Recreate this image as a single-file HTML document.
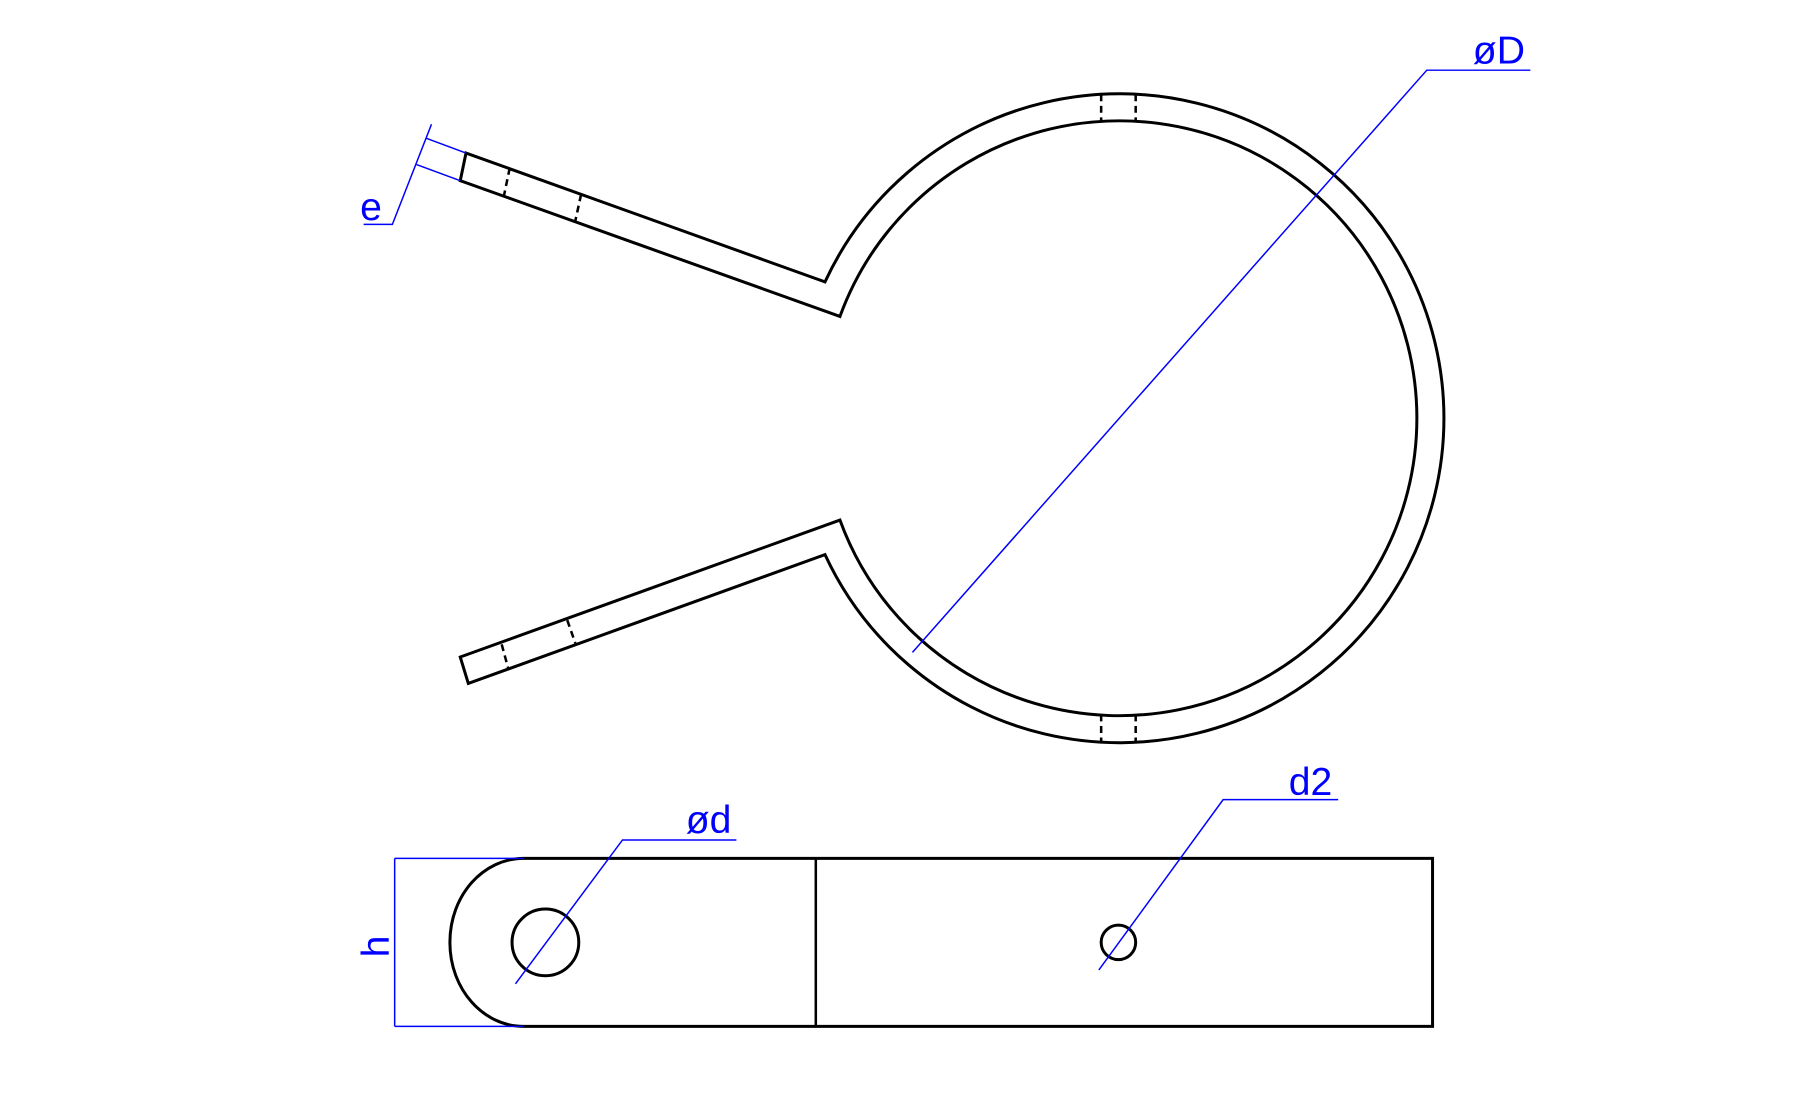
<!DOCTYPE html>
<html><head><meta charset="utf-8"><style>
html,body{margin:0;padding:0;background:#fff;}
svg{display:block;}
text{font-family:"Liberation Sans",sans-serif;fill:#0000ff;}
</style></head><body>
<svg width="1795" height="1110" viewBox="0 0 1560 964.7" preserveAspectRatio="none" xmlns="http://www.w3.org/2000/svg">
<g fill="none" stroke="#000" stroke-width="2.6" stroke-linejoin="miter">
<path d="M405,133 L717,245 A282,282 0 1 1 717,482 L407,594 L400,571 L730,452 A258.5,258.5 0 1 0 730,275 L400,157 Z"/>
</g>
<g fill="none" stroke="#000" stroke-width="2.2" stroke-dasharray="6,4">
<line x1="443" y1="146" x2="438" y2="170"/>
<line x1="505" y1="169" x2="500" y2="192"/>
<line x1="436" y1="560" x2="442" y2="582"/>
<line x1="493" y1="539" x2="500" y2="559"/>
<line x1="957" y1="82" x2="957" y2="106"/>
<line x1="987" y1="82" x2="987" y2="106"/>
<line x1="957" y1="621" x2="957" y2="645"/>
<line x1="987" y1="621" x2="987" y2="645"/>
</g>
<g fill="none" stroke="#000" stroke-width="2.6">
<path d="M455,746 L1245,746 L1245,892 L455,892 C420,892 391,860 391,819 C391,778 420,746 455,746 Z"/>
<line x1="709" y1="746" x2="709" y2="892" stroke-width="2.2"/>
<circle cx="474" cy="819" r="29"/>
<circle cx="972" cy="819" r="15"/>
</g>
<g fill="none" stroke="#0000ff" stroke-width="1.3">
<polyline points="793,567 1240,61 1330,61"/>
<line x1="405" y1="133" x2="370" y2="120"/>
<line x1="400" y1="157" x2="362" y2="143"/>
<polyline points="375,108 341,195 316,195"/>
<polyline points="448,855 541,730 640,730"/>
<polyline points="955,843 1063,695 1163,695"/>
<line x1="343" y1="746" x2="343" y2="892"/>
<line x1="343" y1="746" x2="455" y2="746"/>
<line x1="343" y1="892" x2="455" y2="892"/>
</g>
<text x="1280" y="55" font-size="34">øD</text>
<text x="313" y="191" font-size="34">e</text>
<text x="596" y="724" font-size="34">ød</text>
<text x="1120" y="691" font-size="34">d2</text>
<text x="0" y="0" font-size="34" transform="translate(338,832) rotate(-90)">h</text>
</svg>
</body></html>
